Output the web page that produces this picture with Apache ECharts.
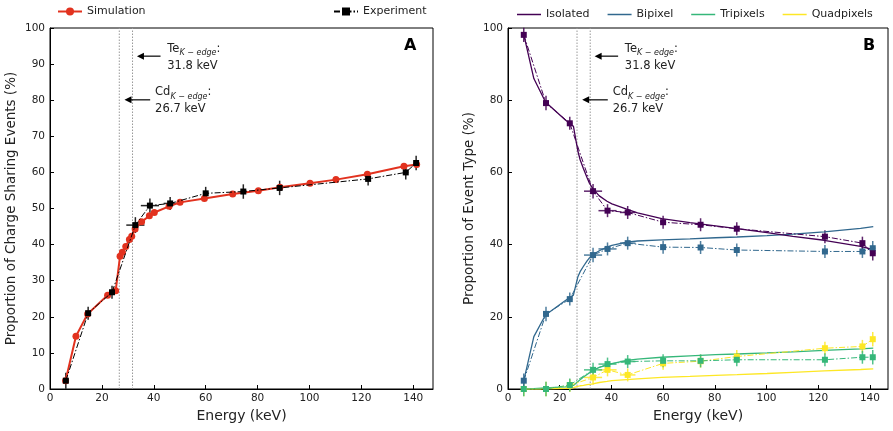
<!DOCTYPE html>
<html><head><meta charset="utf-8">
<script src="https://cdn.jsdelivr.net/npm/echarts@6/dist/echarts.min.js"></script>
<style>html,body{margin:0;padding:0;background:#fff}#c{width:893px;height:431px}</style>
</head><body><div id="c"></div>
<script>
// ---------- data ----------
const simE = [6,10,14.5,22.2,25.3,27,27.9,29.2,30.6,31.5,32.8,35.3,38.3,40.2,45.9,50.1,59.5,70.4,80.3,88.6,100.2,110.2,122.3,136.4,141.3];
const simShare = [2.3,14.6,20.8,26.0,27.2,36.8,37.9,39.5,41.4,42.3,44.3,46.3,48.0,48.9,50.6,51.7,52.8,54.0,54.9,55.9,57.0,58.0,59.5,61.7,62.2];

const expE = [6.1,14.7,23.9,32.9,38.5,46.3,60,74.5,88.5,122.6,137.1,141.1];
const expEErr = [0.5,0.8,1.2,3.5,3.5,2.5,1,1,1,1,1,0.8];
const expShare = [2.3,21.0,26.8,45.4,50.8,51.4,54.2,54.7,55.7,58.2,60.0,62.6];
const expShareErr = [2.2,1.8,1.8,2.2,2.0,1.8,1.8,2.0,2.0,1.8,2.0,2.0];

const isoSim  = [98.5,86,79.5,74.5,72.8,66,63.5,61,58.5,57,55.5,53.5,52,51.3,49.8,48.8,47.2,46.1,45.2,44.4,43.3,42.3,41.2,39.5,38.6];
const biSim   = [2,14.5,20.5,24.5,26,31,32.5,34,35.5,36.3,37.2,38.3,39.3,39.8,40.7,41,41.3,41.6,41.9,42.1,42.5,42.9,43.5,44.5,45];
const triSim  = [0,0.1,0.3,0.6,1,2,2.6,3.3,4,4.5,5.1,6,6.6,7,7.9,8.3,8.8,9.2,9.5,9.7,10,10.3,10.7,11.1,11.3];
const quadSim = [0,0,0.05,0.2,0.4,0.7,0.9,1.0,1.2,1.3,1.4,1.8,2.1,2.3,2.6,2.8,3.2,3.5,3.8,4.0,4.3,4.6,5.0,5.4,5.6];

const isoExp  = [98.1,79.2,73.6,54.8,49.4,48.9,46.2,45.5,44.4,42.2,40.4,37.6];
const biExp   = [2.3,20.8,24.9,37.1,38.8,40.4,39.3,39.2,38.5,38.1,38.1,39.0];
const triExp  = [0,0,1.1,5.3,6.9,7.6,7.8,7.8,8.1,8.1,8.8,8.8];
const quadExp = [0,0,1.0,3.2,5.3,3.9,7.1,7.7,9.0,11.3,11.8,13.8];
const typeErr = [2,2,1.8,2,1.8,1.8,1.8,1.8,1.8,1.8,1.8,2];
const typeEErr = [0.5,0.8,1,3.5,3.5,3,1,1,1,1,1,1];

const typeNames = ['Isolated','Bipixel','Tripixels','Quadpixels'];
const typeColors = ['#440154','#31688e','#35b779','#fde725'];

// K-edge annotations
const edgeNames = ['Te','Cd'];
const edgeE = [31.8,26.7];
const edgeText = ['31.8 keV','26.7 keV'];
const arrowY = [92.2,80.1];
const arrowHead = [33.5,28.7];
const arrowTail = [42.6,38.6];
const textE = [45.2,40.5];

// ---------- helpers ----------
const FONT = 'DejaVu Sans';
const zip = (a,b)=>a.map((v,i)=>[v,b[i]]);
function errSeries(xi, e, v, ee, ve, color, z){
  return {type:'custom', xAxisIndex:xi, yAxisIndex:xi, z:z, silent:true,
    data: e.map((x,i)=>[x, v[i], ee[i], ve[i]]),
    encode:{x:0,y:1},
    renderItem:(p,api)=>{
      const x=api.value(0), y=api.value(1), xe=api.value(2), ye=api.value(3);
      const a=api.coord([x,y-ye]), b=api.coord([x,y+ye]), c=api.coord([x-xe,y]), d=api.coord([x+xe,y]);
      const st={stroke:color, lineWidth:1.5, opacity:0.85};
      return {type:'group', children:[
        {type:'line', shape:{x1:a[0],y1:a[1],x2:b[0],y2:b[1]}, style:st},
        {type:'line', shape:{x1:c[0],y1:c[1],x2:d[0],y2:d[1]}, style:st}
      ]};
    }};
}
function edgeLines(xi){
  return {type:'custom', xAxisIndex:xi, yAxisIndex:xi, z:1, silent:true,
    data: edgeE.map(e=>[e,0]), encode:{x:0,y:1},
    renderItem:(p,api)=>{
      const e=api.value(0); const a=api.coord([e,0]), b=api.coord([e,100]);
      return {type:'line', shape:{x1:a[0],y1:a[1],x2:b[0],y2:b[1]}, style:{stroke:'#999', lineWidth:1, lineDash:[1.5,1.5]}};
    }};
}
function arrows(xi){
  return {type:'custom', xAxisIndex:xi, yAxisIndex:xi, z:10, silent:true,
    data: edgeNames.map((n,i)=>[arrowHead[i], arrowY[i], arrowTail[i], textE[i], i]), encode:{x:0,y:1},
    renderItem:(p,api)=>{
      const i=api.value(4);
      const h=api.coord([api.value(0),api.value(1)]), t=api.coord([api.value(2),api.value(1)]), tx=api.coord([api.value(3),api.value(1)]);
      return {type:'group', children:[
        {type:'line', shape:{x1:t[0],y1:t[1],x2:h[0]+6,y2:h[1]}, style:{stroke:'#000', lineWidth:1.2}},
        {type:'polygon', shape:{points:[[h[0],h[1]],[h[0]+7,h[1]-3.5],[h[0]+7,h[1]+3.5]]}, style:{fill:'#000'}},
        {type:'text', x:tx[0], y:tx[1]+1, style:{
          text:'{n|'+edgeNames[i]+'}{s|K − edge}{n|:}\n{n|'+edgeText[i]+'}',
          align:'left', verticalAlign:'middle', fill:'#222',
          rich:{ n:{fontSize:11.5, fontFamily:FONT, lineHeight:17, fill:'#222'},
                 s:{fontSize:8, fontStyle:'italic', fontFamily:FONT, lineHeight:17, verticalAlign:'bottom', fill:'#222'} }
        }}
      ]};
    }};
}
function xAxisCfg(gi, max){
  return {type:'value', gridIndex:gi, min:0, max:max, interval:20,
    name:'Energy (keV)', nameLocation:'middle', nameGap:19,
    nameTextStyle:{fontSize:14, fontFamily:FONT, color:'#222'},
    axisLine:{lineStyle:{color:'#000', width:1}}, axisTick:{inside:true, length:4, lineStyle:{color:'#000'}},
    axisLabel:{fontSize:10.5, fontFamily:FONT, color:'#222', margin:4, showMaxLabel:false},
    splitLine:{show:false}};
}
function yAxisCfg(gi, name, interval){
  return {type:'value', gridIndex:gi, min:0, max:100, interval:interval,
    name:name, nameLocation:'middle', nameGap:32,
    nameTextStyle:{fontSize:13.5, fontFamily:FONT, color:'#222'},
    axisLine:{show:true, lineStyle:{color:'#000', width:1}}, axisTick:{show:true, inside:true, length:4, lineStyle:{color:'#000'}},
    axisLabel:{fontSize:10.5, fontFamily:FONT, color:'#222', margin:5},
    splitLine:{show:false}};
}

const series = [];
// ----- panel A -----
series.push(edgeLines(0), arrows(0));
series.push(errSeries(0, expE, expShare, expEErr, expShareErr, '#000', 3));
series.push({name:'Simulation', type:'line', xAxisIndex:0, yAxisIndex:0, z:4, data:zip(simE, simShare),
  symbol:'circle', symbolSize:7, lineStyle:{color:'#e2321f', width:2}, itemStyle:{color:'#e2321f'}});
series.push({name:'Experiment', type:'line', xAxisIndex:0, yAxisIndex:0, z:5, data:zip(expE, expShare),
  symbol:'rect', symbolSize:6, lineStyle:{color:'#000', width:1, type:[6,2,1.5,2]}, itemStyle:{color:'#000'}});
// ----- panel B -----
series.push(edgeLines(1), arrows(1));
const sims=[isoSim,biSim,triSim,quadSim], exps=[isoExp,biExp,triExp,quadExp];
for(let k=3;k>=0;k--){
  series.push(errSeries(1, expE, exps[k], typeEErr, typeErr, typeColors[k], 3));
  series.push({name:typeNames[k]+' exp', type:'line', xAxisIndex:1, yAxisIndex:1, z:5, data:zip(expE, exps[k]),
    symbol:'rect', symbolSize:6, lineStyle:{color:typeColors[k], width:1, type:[6,2,1.5,2]}, itemStyle:{color:typeColors[k]}});
  series.push({name:typeNames[k], type:'line', xAxisIndex:1, yAxisIndex:1, z:4, data:zip(simE, sims[k]),
    symbol:'none', showSymbol:false, lineStyle:{color:typeColors[k], width:1.3}, itemStyle:{color:typeColors[k]}});
}

const chart = echarts.init(document.getElementById('c'), null, {renderer:'canvas'});
chart.setOption({
  animation:false,
  backgroundColor:'#fff',
  textStyle:{fontFamily:FONT},
  grid:[
    {left:50, top:28, width:383, height:361, show:true, borderColor:'#000', borderWidth:1, backgroundColor:'transparent'},
    {left:508, top:28, width:380, height:361, show:true, borderColor:'#000', borderWidth:1, backgroundColor:'transparent'}
  ],
  xAxis:[xAxisCfg(0, 147.6), xAxisCfg(1, 147.0)],
  yAxis:[yAxisCfg(0,'Proportion of Charge Sharing Events (%)',10), yAxisCfg(1,'Proportion of Event Type (%)',20)],
  legend:[
    {data:['Simulation'], left:52, top:1, itemWidth:24, itemHeight:10, textStyle:{fontSize:11, fontFamily:FONT, color:'#222'}},
    {data:['Experiment'], left:328, top:1, itemWidth:24, itemHeight:10, textStyle:{fontSize:11, fontFamily:FONT, color:'#222'}},
    {data:typeNames, left:512, top:4, icon:'rect', itemWidth:24, itemHeight:1.5, itemGap:18,
      textStyle:{fontSize:11, fontFamily:FONT, color:'#222'}}
  ],
  graphic:[
    {type:'text', left:404, top:38, style:{text:'A', fontSize:16, fontWeight:'bold', fontFamily:FONT, fill:'#000'}},
    {type:'text', left:863, top:38, style:{text:'B', fontSize:16, fontWeight:'bold', fontFamily:FONT, fill:'#000'}}
  ],
  series:series
});
</script></body></html>
